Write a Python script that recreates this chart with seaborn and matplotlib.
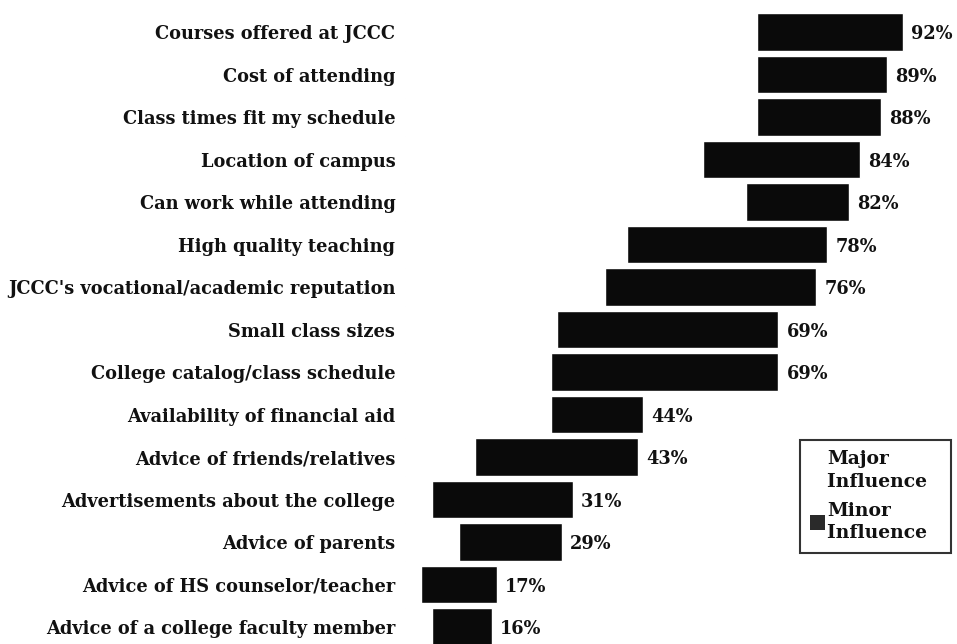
import matplotlib
matplotlib.use("Agg")
import matplotlib.pyplot as plt
import seaborn as sns
import pandas as pd
from matplotlib.patches import Patch

categories = [
    "Courses offered at JCCC",
    "Cost of attending",
    "Class times fit my schedule",
    "Location of campus",
    "Can work while attending",
    "High quality teaching",
    "JCCC's vocational/academic reputation",
    "Small class sizes",
    "College catalog/class schedule",
    "Availability of financial aid",
    "Advice of friends/relatives",
    "Advertisements about the college",
    "Advice of parents",
    "Advice of HS counselor/teacher",
    "Advice of a college faculty member",
]
major = [65, 65, 65, 55, 63, 41, 37, 28, 27, 27, 13, 5, 10, 3, 5]
minor = [27, 24, 23, 29, 19, 37, 39, 41, 42, 17, 30, 26, 19, 14, 11]
totals = [92, 89, 88, 84, 82, 78, 76, 69, 69, 44, 43, 31, 29, 17, 16]

df = pd.DataFrame({"cat": categories, "major": major, "minor": minor, "total": totals})

sns.set_theme(style="white")
plt.rcParams["font.family"] = ["DejaVu Serif", "Liberation Serif"]

FS = 12.8

fig = plt.figure(figsize=(9.57, 6.44), dpi=100)
ax = fig.add_axes([405 / 957, 0, 1 - 405 / 957, 1])

sns.barplot(data=df, x="total", y="cat", color="#0a0a0a", width=0.88,
            orient="h", ax=ax, saturation=1)
sns.barplot(data=df, x="major", y="cat", color="white", width=0.90,
            orient="h", ax=ax, saturation=1)

for i, t in enumerate(df["total"]):
    ax.text(t + 1.5, i, f"{t}%", va="center_baseline", ha="left", fontsize=FS,
            fontweight="bold", color="#111111")

ax.set_xlim(0, 102)
ax.set_ylim(14.4, -0.753)
ax.set_xlabel("")
ax.set_ylabel("")
ax.set_xticks([])
ax.tick_params(axis="y", length=0, pad=7)
for lab in ax.get_yticklabels():
    lab.set_fontsize(FS)
    lab.set_fontweight("bold")
    lab.set_color("#111111")
for s in ax.spines.values():
    s.set_visible(False)

handles = [Patch(facecolor="white", edgecolor="none"),
           Patch(facecolor="#2a2a2a", edgecolor="none")]
leg = ax.legend(handles, ["Major\nInfluence  ", "Minor\nInfluence  "],
                loc="upper left", bbox_to_anchor=((800 - 405) / 552, 1 - 440 / 644),
                frameon=True, fancybox=False, fontsize=13.5,
                handlelength=0.8, handleheight=0.8, handletextpad=0.1,
                borderpad=0.55, labelspacing=0.55, borderaxespad=0)
leg.get_frame().set_edgecolor("black")
leg.get_frame().set_linewidth(1.5)
for t in leg.get_texts():
    t.set_fontweight("bold")
    t.set_color("#111111")
    t.set_linespacing(1.35)

fig.savefig("out.png", dpi=100)
